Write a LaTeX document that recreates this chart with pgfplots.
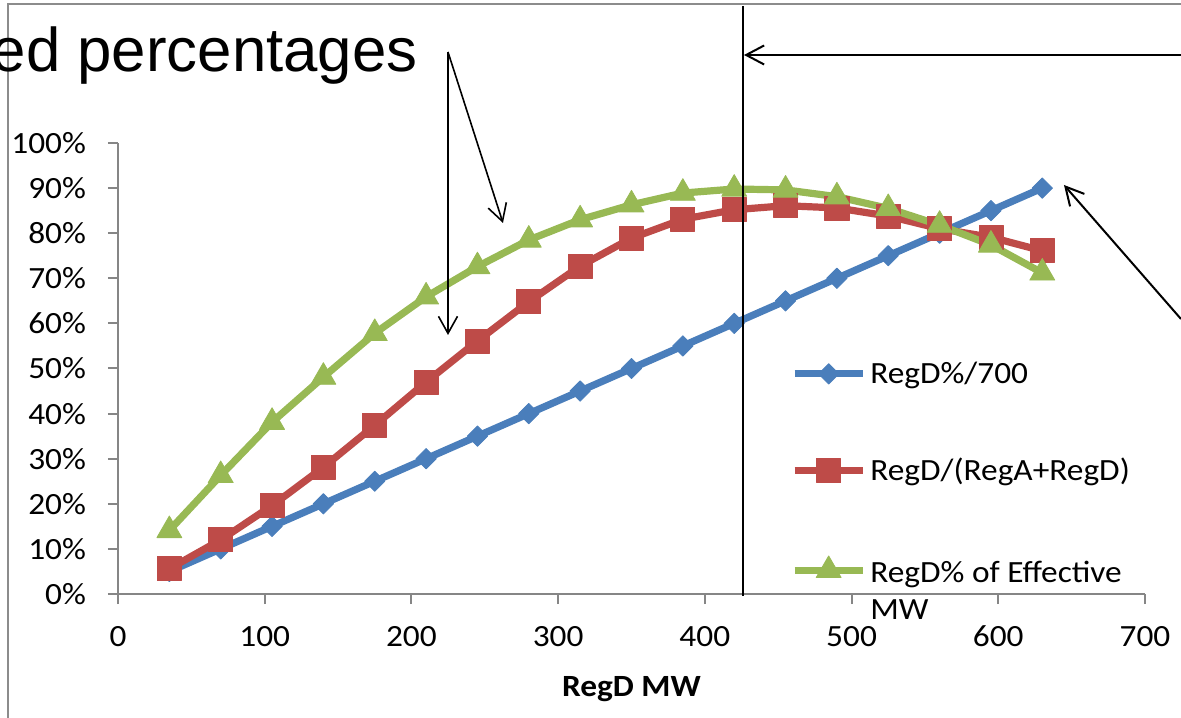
\documentclass[border=0pt]{standalone}
\usepackage{fontspec}
\setmainfont{Carlito}[FakeStretch=1.08]
\newfontfamily\arialfont{Liberation Sans}
\usepackage{pgfplots}
\usepackage{pgfplotstable}
\pgfplotsset{compat=1.18}
\usetikzlibrary{arrows.meta}

\definecolor{xlblue}{HTML}{4A7EBB}
\definecolor{xlred}{HTML}{BE4B48}
\definecolor{xlgreen}{HTML}{98B954}
\definecolor{framegray}{HTML}{8C8C8C}
\definecolor{axisgray}{HTML}{868686}

% RegD MW, RegD%/700, RegD/(RegA+RegD), RegD% of effective MW (all in %)
\pgfplotstableread{
mw   lin  share  eff
35   5    5.6    14.1
70   10   12.0   26.3
105  15   19.6   38.1
140  20   28.1   48.1
175  25   37.4   57.8
210  30   47.0   65.9
245  35   56.1   72.6
280  40   64.8   78.5
315  45   72.7   83.0
350  50   78.9   86.3
385  55   83.1   88.9
420  60   85.2   89.8
455  65   86.1   89.6
490  70   85.6   88.1
525  75   83.8   85.5
560  80   81.0   81.8
595  85   79.1   77.4
630  90   76.1   71.2
}\regdata

\begin{document}
\begin{tikzpicture}
\useasboundingbox (0,0) rectangle (590.5bp,359bp);

% slide frame
\begin{scope}[x=0.5bp, y=-0.5bp, yshift=359bp]
  \draw[framegray, line width=1bp] (8,718) -- (8,4.5) -- (1181,4.5);
\end{scope}

\begin{axis}[
  at={(59bp,62bp)}, anchor=south west,
  scale only axis, width=513.5bp, height=225.5bp,
  xmin=0, xmax=700, ymin=0, ymax=100,
  axis lines=left,
  axis line style={-, draw=axisgray, line width=1bp},
  xtick={0,100,...,700}, ytick={0,10,...,100},
  tick align=outside, major tick length=5bp,
  tick style={draw=axisgray, line width=1bp},
  yticklabel={\pgfmathprintnumber{\tick}\%},
  ticklabel style={font=\fontsize{15.5}{18}\selectfont, /pgf/number format/assume math mode=true},
  yticklabel style={xshift=-7.5bp},
  xticklabel style={yshift=-7.5bp},
  xlabel={RegD MW},
  xlabel style={font=\bfseries\fontsize{15.5}{18}\selectfont, yshift=-8bp},
  clip=false,
  legend style={at={(0.655,0.525)}, anchor=north west, draw=none, fill=none,
    font=\fontsize{15.5}{19}\selectfont, row sep=32bp, inner sep=0pt},
  legend cell align=left,
  legend image code/.code={\draw[mark repeat=2,mark phase=2] plot coordinates {(0bp,0bp) (17bp,0bp) (34bp,0bp)};},
]
\addplot[xlblue, line width=3.6bp, line join=round, mark=square*, mark size=3.6bp,
  mark options={rotate=45, line width=0.4bp, fill=xlblue, draw=xlblue, solid}]
  table[x=mw, y=lin]{\regdata};
\addlegendentry{RegD\%/700}
\addplot[xlred, line width=3.6bp, line join=round, mark=square*, mark size=6bp,
  mark options={line width=0.4bp, fill=xlred, draw=xlred, solid}]
  table[x=mw, y=share]{\regdata};
\addlegendentry{RegD/(RegA+RegD)}
\addplot[xlgreen, line width=3.6bp, line join=round, mark=triangle*, mark size=7.2bp,
  mark options={line width=0.4bp, fill=xlgreen, draw=xlgreen, solid}]
  table[x=mw, y=eff]{\regdata};
\addlegendentry{\begin{tabular}[t]{@{}l@{}}RegD\% of Effective\\MW\end{tabular}}
\end{axis}

% callouts drawn over the chart
\begin{scope}[x=0.5bp, y=-0.5bp, yshift=359bp]
  \node[font=\arialfont\fontsize{31}{37}\selectfont, anchor=base east, inner sep=0pt]
    at (418,72) {ed percentages};
  \draw[line width=0.8bp, -{Straight Barb[length=8.5bp,width=9.5bp]}] (448,52) -- (448,335);
  \draw[line width=0.8bp, -{Straight Barb[length=8.5bp,width=9.5bp]}] (448,52) -- (503,223);
  \draw[line width=1bp] (743,6) -- (743,596);
  \draw[line width=1bp, -{Straight Barb[length=9bp,width=9.5bp]}] (1181,55) -- (744,55);
  \draw[line width=1bp, -{Straight Barb[length=9bp,width=9.5bp]}] (1181,319) -- (1064,185);
\end{scope}
\end{tikzpicture}
\end{document}
